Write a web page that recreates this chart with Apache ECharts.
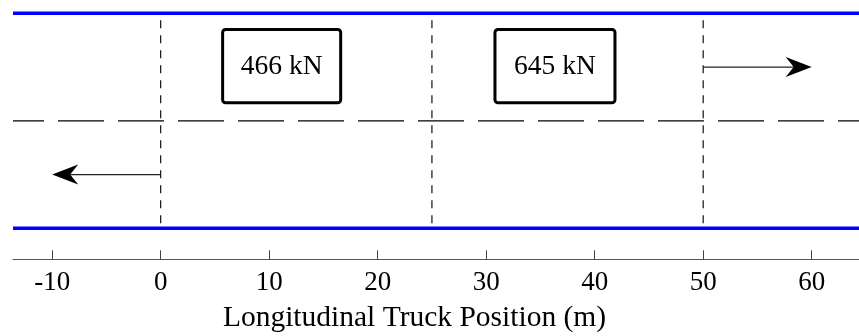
<!DOCTYPE html>
<html>
<head>
<meta charset="utf-8">
<script src="https://cdn.jsdelivr.net/npm/echarts@6/dist/echarts.min.js"></script>
<style>
html,body{margin:0;padding:0;background:#fff;}
#chart{width:859px;height:336px;}
</style>
</head>
<body>
<div id="chart"></div>
<script>
// ---- data ----
const xTicks = [-10, 0, 10, 20, 30, 40, 50, 60];
const xTitle = 'Longitudinal Truck Position (m)';
const laneEdges = [0, 8];           // lane boundaries (blue lines)
const laneCenter = 4;               // dashed centre line
const truckMarks = [0, 25, 50];     // vertical dashed positions
const boxLabels = ['466 kN', '645 kN'];
const boxStart = [5.71, 30.81];
const boxEnd = [16.59, 41.87];
const boxBottom = [4.67, 4.67];
const boxTop = [7.40, 7.40];
const arrowFrom = [50, 0];
const arrowTo = [60, -10];
const arrowY = [6, 2];

const FONT = "'Liberation Serif','Times New Roman',serif";
const xMin = -13.61, xMax = 64.36;

const series = [];
// lane edges
laneEdges.forEach(y => series.push({
  type: 'line', data: [[xMin, y], [xMax, y]], symbol: 'none', silent: true, clip: false,
  lineStyle: { color: '#0000ff', width: 3.5 }, z: 3
}));
// centre line
series.push({
  type: 'line', data: [[xMin, laneCenter], [xMax, laneCenter]], symbol: 'none', silent: true,
  lineStyle: { color: '#000', width: 1.3, type: [46, 14], dashOffset: 15 }, z: 2
});
// vertical dashed marks
truckMarks.forEach(x => series.push({
  type: 'line', data: [[x, laneEdges[1]], [x, laneEdges[0]]], symbol: 'none', silent: true,
  lineStyle: { color: '#111', width: 1.2, type: [8, 7], dashOffset: 8 }, z: 2
}));
// boxes
series.push({
  type: 'custom', silent: true, z: 4,
  data: boxLabels.map((l, i) => [boxStart[i], boxEnd[i], boxBottom[i], boxTop[i], l]),
  renderItem: function (params, api) {
    const p1 = api.coord([api.value(0), api.value(3)]);
    const p2 = api.coord([api.value(1), api.value(2)]);
    const label = boxLabels[params.dataIndex];
    return {
      type: 'group',
      children: [
        { type: 'rect', shape: { x: p1[0], y: p1[1], width: p2[0] - p1[0], height: p2[1] - p1[1], r: 3 },
          style: { fill: '#fff', stroke: '#000', lineWidth: 3 } },
        { type: 'text', style: { text: label, x: (p1[0] + p2[0]) / 2, y: (p1[1] + p2[1]) / 2 + 1,
          align: 'center', verticalAlign: 'middle', font: '27.5px ' + FONT, fill: '#000' } }
      ]
    };
  }
});
// arrows
series.push({
  type: 'custom', silent: true, z: 4,
  data: arrowFrom.map((f, i) => [f, arrowTo[i], arrowY[i]]),
  renderItem: function (params, api) {
    const a = api.coord([api.value(0), api.value(2)]);
    const b = api.coord([api.value(1), api.value(2)]);
    const dir = b[0] > a[0] ? 1 : -1;
    const L = 26, W = 10, N = 8;
    const tip = b;
    const pts = [
      [tip[0], tip[1]],
      [tip[0] - dir * L, tip[1] - W],
      [tip[0] - dir * (L - N), tip[1]],
      [tip[0] - dir * L, tip[1] + W]
    ];
    return {
      type: 'group',
      children: [
        { type: 'line', shape: { x1: a[0], y1: a[1], x2: tip[0] - dir * (L - N), y2: tip[1] },
          style: { stroke: '#222', lineWidth: 1.2 } },
        { type: 'polygon', shape: { points: pts }, style: { fill: '#000' } }
      ]
    };
  }
});

const chart = echarts.init(document.getElementById('chart'), null, { renderer: 'canvas' });
chart.setOption({
  animation: false,
  backgroundColor: '#fff',
  grid: { left: 13, right: 0, top: 0, bottom: 76.7, containLabel: false },
  xAxis: {
    type: 'value', min: xMin, max: xMax,
    axisLine: { show: true, onZero: false, lineStyle: { color: '#555', width: 1 } },
    axisTick: { show: true, inside: true, length: 9, customValues: xTicks, lineStyle: { color: '#444' } },
    axisLabel: { customValues: xTicks, margin: 10, fontFamily: "'Liberation Serif','Times New Roman',serif", fontSize: 27, color: '#000' },
    splitLine: { show: false }
  },
  yAxis: {
    type: 'value', min: -1.153, max: 8.495, show: false
  },
  graphic: [{
    type: 'text', x: 414.5, y: 318,
    style: { text: xTitle, align: 'center', verticalAlign: 'middle', font: '29.5px ' + FONT, fill: '#000' }
  }],
  series: series
});
</script>
</body>
</html>
